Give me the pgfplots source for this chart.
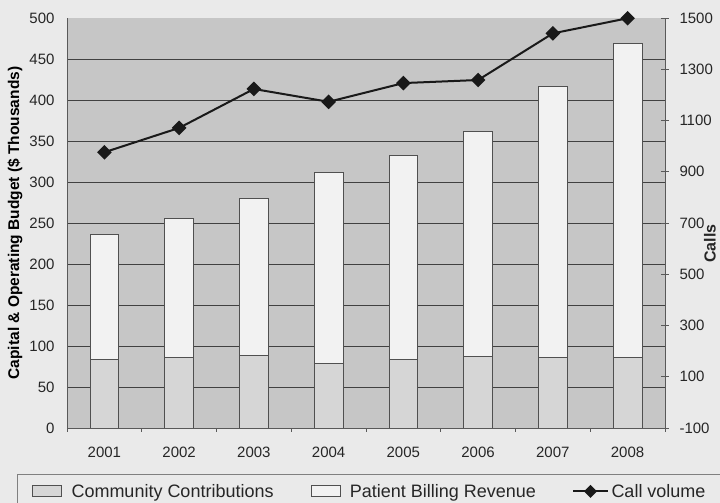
\documentclass[border=0pt]{standalone}
\usepackage{pgfplots}
\pgfplotsset{compat=1.18}
\usepackage{fontspec}
\setmainfont{Liberation Sans}
\definecolor{outerbg}{RGB}{234,234,234}
\definecolor{plotbg}{RGB}{198,198,198}
\definecolor{commc}{RGB}{214,214,214}
\definecolor{patc}{RGB}{242,242,242}
\definecolor{gridc}{RGB}{65,65,65}
\definecolor{edgec}{RGB}{80,80,80}
\pgfplotsset{
  barleg/.style={legend image code/.code={\draw[##1] (0pt,-5.5pt) rectangle (29pt,5.5pt);}},
  lineleg/.style={legend image code/.code={\node[minimum width=29pt, minimum height=11pt, inner sep=0pt, outer sep=0pt, anchor=west, draw=none, fill=none] at (0pt,0pt) {};
     \pgfinterruptboundingbox
     \draw[##1] (0pt,0pt) -- (35pt,0pt);
     \draw[##1] plot coordinates {(17.5pt,0pt)};
     \endpgfinterruptboundingbox}},
}
\begin{document}
\begin{tikzpicture}[x=1pt,y=1pt]
\fill[outerbg] (0,0) rectangle (720,503);
\path[use as bounding box] (0,0) rectangle (720,503);
\begin{axis}[
  at={(67pt,75pt)}, anchor=south west,
  width=598pt, height=410pt, scale only axis,
  xmin=2000.5, xmax=2008.5, ymin=0, ymax=500,
  ybar stacked, bar width=28.7pt,
  axis background/.style={fill=plotbg},
  xtick={2001,...,2008},
  minor xtick={2000.5,2001.5,...,2008.5},
  ytick={0,50,...,450},
  extra y ticks={500}, extra y tick style={grid=none},
  ymajorgrids, grid style={gridc, line width=0.8pt},
  major tick length=0pt, minor tick length=4pt, tick align=outside,
  axis x line*=bottom, axis y line*=left,
  axis line style={gray!70!black, line width=0.8pt},
  tick style={gray!70!black, line width=0.6pt},
  /pgf/number format/assume math mode=true,
  /pgf/number format/1000 sep={},
  ticklabel style={font=\fontsize{15}{17}\selectfont, text=black!85},
  xticklabel style={yshift=-15pt},
  yticklabel style={xshift=-9pt},
  ylabel={Capital \& Operating Budget (\$ Thousands)},
  ylabel style={font=\bfseries\fontsize{15.5}{17}\selectfont, at={(axis description cs:-0.087,0.5)}, anchor=center},
  legend columns=3,
  legend style={at={(axis description cs:-0.0836,-0.112)}, anchor=north west,
    draw=gray, fill=outerbg, font=\fontsize{18}{20}\selectfont, text=black!85,
    inner xsep=15pt, inner ysep=8pt,
    /tikz/every odd column/.append style={column sep=7.5pt},
    /tikz/every even column/.append style={column sep=35pt}},
  legend cell align=left,
]
\addplot[fill=commc, draw=edgec, line width=0.8pt, barleg]
  coordinates {(2001,84) (2002,86) (2003,89) (2004,79) (2005,84) (2006,87) (2007,86) (2008,86)};
\addplot[fill=patc, draw=edgec, line width=0.8pt, barleg]
  coordinates {(2001,152) (2002,169) (2003,191) (2004,233) (2005,248) (2006,275) (2007,331) (2008,383)};
\addlegendimage{black!90, line width=2pt, mark=square*, mark size=3.6pt, mark options={rotate=45}, lineleg}
\legend{Community Contributions, Patient Billing Revenue, Call volume}
\end{axis}
\begin{axis}[
  at={(67pt,75pt)}, anchor=south west,
  width=598pt, height=410pt, scale only axis,
  xmin=2000.5, xmax=2008.5, ymin=-100, ymax=1500,
  axis x line=none, axis y line*=right,
  ytick={-100,100,...,1500},
  major tick length=8pt, tick align=center,
  axis line style={gray!70!black, line width=0.8pt},
  tick style={gray!70!black, line width=0.6pt},
  /pgf/number format/assume math mode=true,
  /pgf/number format/1000 sep={},
  ticklabel style={font=\fontsize{15}{17}\selectfont, text=black!85},
  yticklabel style={xshift=7pt},
  clip=false,
]
\addplot[black!90, line width=2pt, mark=square*, mark size=4.2pt, mark options={rotate=45}]
  coordinates {(2001,976) (2002,1071) (2003,1223) (2004,1173) (2005,1246) (2006,1258) (2007,1440) (2008,1499)};
\node[rotate=90, font=\bfseries\fontsize{16}{18}\selectfont, text=black!85] at (axis description cs:1.075,0.45) {Calls};
\end{axis}
\end{tikzpicture}
\end{document}
